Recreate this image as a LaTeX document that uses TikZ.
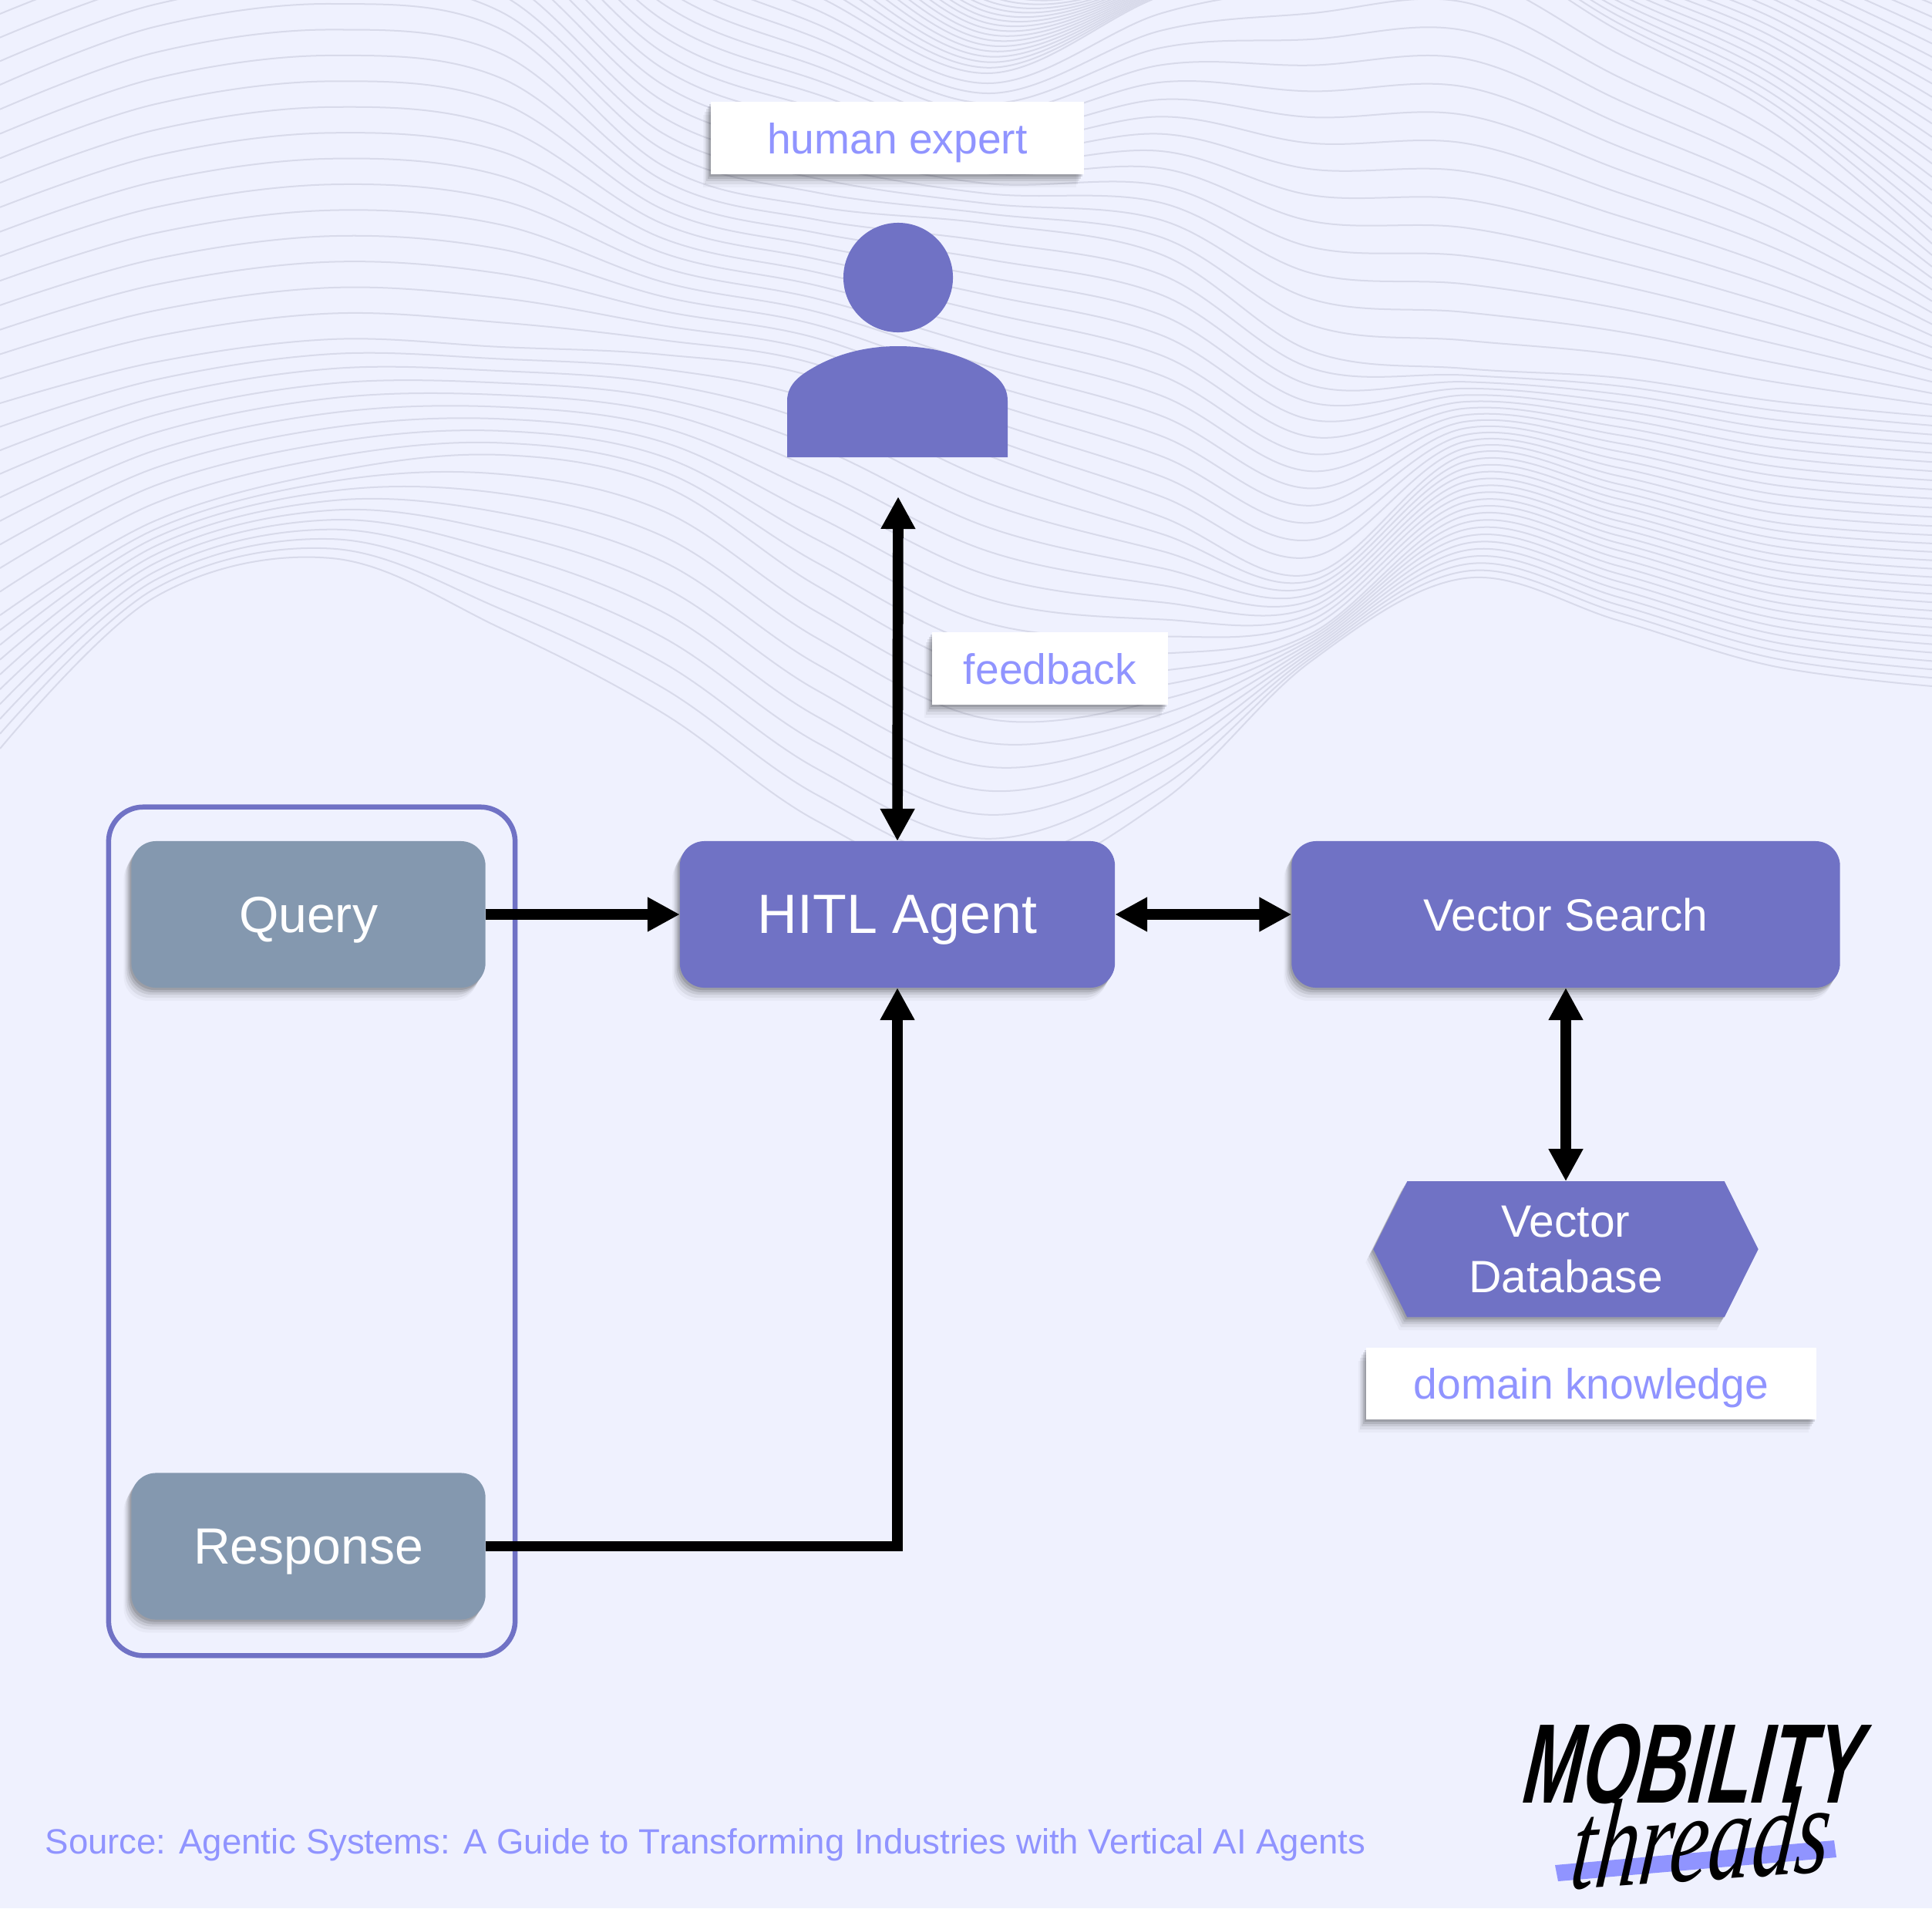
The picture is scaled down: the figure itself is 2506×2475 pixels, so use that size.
\documentclass[tikz,border=0pt]{standalone}
\usepackage{fontspec}
\setmainfont{Liberation Sans}
\newfontfamily\threadsfont{Liberation Serif}
\usetikzlibrary{arrows.meta,positioning,shapes.symbols,shadows}
\definecolor{pagebg}{HTML}{EFF1FE}
\definecolor{waveline}{HTML}{D8DAEA}
\definecolor{agentblue}{HTML}{7072C5}
\definecolor{slategrey}{HTML}{8498AF}
\definecolor{labelblue}{HTML}{9094FF}
\def\wavex{{0,200,430,650,860,1060,1280,1506,1700,1900,2100,2300,2506}}
\def\waveA{{971,775,724,815,925,1065,1150,1040,858,750,805,864,890}}
\def\waveB{{798,676,612,590,630,760,870,870,822,669,714,770,792}}
\def\waveC{{523,470,440,450,460,490,590,670,745,590,628,677,694}}
\def\waveD{{110,35,5,38,215,268,290,330,455,478,490,520,540}}
\def\waveE{{-350,-400,-420,-300,-100,-5,95,-5,-50,-70,40,147,316}}
\def\waveF{{-800,-800,-800,-700,-500,-300,-50,-50,-250,-250,-150,-100,-30}}
\begin{document}
\begin{tikzpicture}[
  x=.01cm, y=-.01cm,
  softshadow/.style={
    drop shadow={shadow xshift=-.10cm, shadow yshift=-.17cm, opacity=.03, fill=black},
    drop shadow={shadow xshift=-.08cm, shadow yshift=-.13cm, opacity=.06, fill=black},
    drop shadow={shadow xshift=-.06cm, shadow yshift=-.09cm, opacity=.08, fill=black},
    drop shadow={shadow xshift=-.04cm, shadow yshift=-.06cm, opacity=.10, fill=black},
    drop shadow={shadow xshift=-.02cm, shadow yshift=-.03cm, opacity=.12, fill=black}},
  agentbox/.style={rectangle, softshadow, fill=agentblue, text=white, rounded corners=.32cm, outer sep=0, text depth=0pt, minimum height=1.9cm},
  greybox/.style={agentbox, fill=slategrey, minimum width=4.59cm, font=\fontsize{18.8}{22}\selectfont},
  dbhex/.style={signal, signal to=west and east, signal pointer angle=127, softshadow, fill=agentblue, text=white, align=center, outer sep=0, inner sep=0, minimum width=4.99cm, minimum height=1.76cm, font=\fontsize{16.7}{20.5}\selectfont},
  labelbox/.style={rectangle, softshadow, fill=white, text=labelblue, outer sep=0, text depth=0pt, minimum height=.93cm, font=\fontsize{15.7}{18}\selectfont},
  arrow/.style={-{Triangle[length=.42cm,width=.42cm]}, line width=.137cm},
  twoway/.style={{Triangle[length=.42cm,width=.42cm]}-{Triangle[length=.42cm,width=.42cm]}, line width=.137cm}
]
\useasboundingbox (0,0) rectangle (2506,2475);
\fill[pagebg] (0,0) rectangle (2506,2475);
\begin{scope}
\clip (0,0) rectangle (2506,2475);
\foreach \ylo/\yhi/\nlines in {\waveA/\waveB/9,\waveB/\waveC/9,\waveC/\waveD/13,\waveD/\waveE/15,\waveE/\waveF/20}
  \foreach \i in {1,...,\nlines}
    \draw[waveline, line width=.02cm] plot[smooth, tension=.6, variable=\k, samples at={0,...,12}]
      ({\wavex[int(\k)]},{\ylo[int(\k)]+\i/\nlines*(\yhi[int(\k)]-\ylo[int(\k)])});
\draw[waveline, line width=.02cm] plot[smooth, tension=.6, variable=\k, samples at={0,...,12}]
  ({\wavex[int(\k)]},{\waveA[int(\k)]});
\end{scope}
\node[draw=agentblue, line width=.065cm, rounded corners=.45cm, minimum width=5.27cm, minimum height=11cm] (group) at (404.5,1597) {};
\node[agentbox, minimum width=5.64cm, font=\fontsize{20.4}{24}\selectfont] (hitl) at (1164,1186) {HITL Agent};
\node[greybox, left=2.52cm of hitl] (query) {Query};
\node[greybox, below=6.29cm of query] (response) {Response};
\node[agentbox, right=2.29cm of hitl, minimum width=7.11cm, font=\fontsize{16.7}{20}\selectfont] (vecsearch) {Vector Search};
\node[dbhex, below=2.51cm of vecsearch] (vecdb) {Vector\\Database};
\node[labelbox, below=.4cm of vecdb, xshift=.33cm, minimum width=5.83cm] (domain) {domain knowledge};
\node[labelbox, minimum width=4.84cm] (expert) at (1164,179) {human expert};
\node[labelbox, minimum width=3.05cm] (feedback) at (1362,867) {feedback};
\node[circle, fill=agentblue, inner sep=0, minimum size=1.42cm] (head) at (1165,360) {};
\fill[agentblue] (1021,593) -- (1021,520) .. controls (1021,497) and (1040,485) .. (1060,474) .. controls (1090,458) and (1125,449) .. (1165,449) .. controls (1205,449) and (1240,458) .. (1270,474) .. controls (1290,485) and (1307,497) .. (1307,520) -- (1307,593) -- cycle;
\coordinate (personfoot) at (1165,644);
\draw[twoway] (personfoot) -- (hitl.north);
\draw[arrow] (query) -- (hitl);
\draw[arrow] (response.east) -| (hitl.south);
\draw[twoway] (hitl) -- (vecsearch);
\draw[twoway] (vecsearch.south) -- (vecdb.north);
\node[anchor=base west, inner sep=0, text=labelblue, font=\fontsize{12.95}{16}\selectfont] (source) at (58,2404) {Source: Agentic Systems: A Guide to Transforming Industries with Vertical AI Agents};
\fill[labelblue] (2017,2419) -- (2379,2387) -- (2382,2409) -- (2021,2440) -- cycle;
\node[xscale=.625, xslant=.36, transform shape, inner sep=0, font=\fontsize{41.7}{50}\selectfont\bfseries] (logotop) at (2200,2288) {MOBILITY};
\node[rotate=4, xscale=.70, xslant=.25, transform shape, inner sep=0, font=\fontsize{46}{54}\selectfont\threadsfont\itshape] (logobottom) at (2208,2383) {threads};
\end{tikzpicture}
\end{document}
